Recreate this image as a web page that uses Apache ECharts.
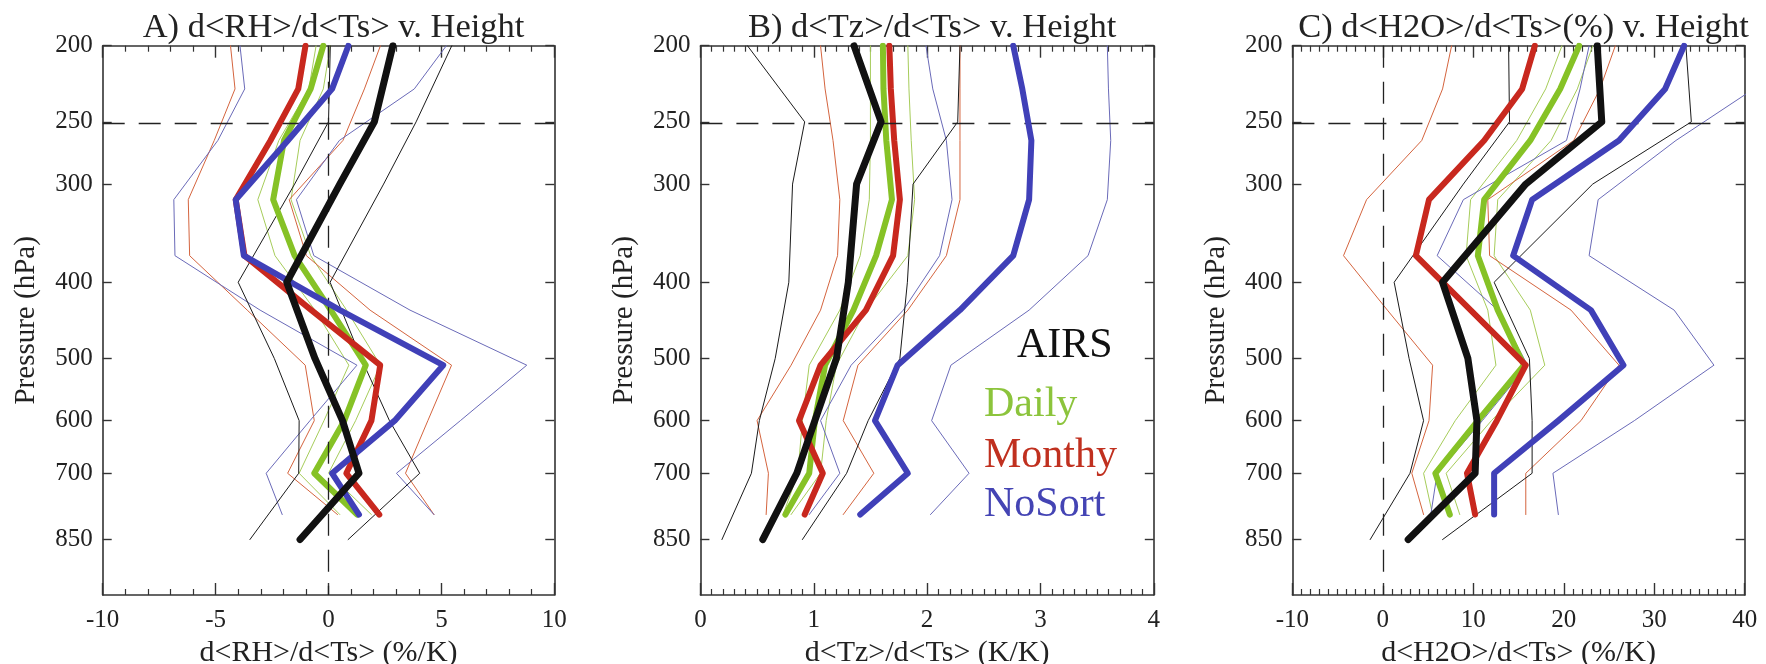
<!DOCTYPE html>
<html>
<head>
<meta charset="utf-8">
<script src="https://cdn.jsdelivr.net/npm/echarts@6/dist/echarts.min.js"></script>
<style>
html,body{margin:0;padding:0;background:#fff;}
#chart{width:1766px;height:664px;}
</style>
</head>
<body>
<div id="chart"></div>
<script>
// ---------- DATA ----------
const P_AIRS  = [200, 250, 300, 400, 500, 600, 700, 850];
const P_MODEL = [200, 227, 264, 314, 370, 434, 510, 600, 700, 790];
const Y_TICKS = [200, 250, 300, 400, 500, 600, 700, 850];
const P_TOP = 200, P_BOTTOM = 1000, P_REF = 250;

// Panel A: d<RH>/d<Ts> (%/K)
const A_AIRS       = [2.85, 2.03, 0.5, -1.85, -0.6, 0.62, 1.35, -1.26];
const A_AIRS_LO    = [0.08, 0.0, -1.5, -4.0, -2.4, -1.3, -1.32, -3.48];
const A_AIRS_HI    = [5.46, 3.88, 2.44, 0.07, 1.45, 2.7, 4.04, 0.87];
const A_DAILY      = [-0.23, -0.79, -1.97, -2.45, -1.5, 0.1, 1.65, 0.7, -0.63, 1.27];
const A_DAILY_LO   = [-0.55, -0.87, -2.2, -3.13, -2.37, -0.6, 0.9, -0.2, -1.3, 0.5];
const A_DAILY_HI   = [0.08, -0.23, -1.26, -1.66, -0.79, 0.8, 2.3, 1.2, 0.0, 1.9];
const A_MONTHY     = [-1.02, -1.34, -2.57, -4.11, -3.72, -0.76, 2.29, 1.9, 0.79, 2.25];
const A_MONTHY_LO  = [-4.34, -4.14, -5.06, -6.21, -6.15, -3.6, -1.03, -0.63, -1.81, 0.4];
const A_MONTHY_HI  = [2.3, 1.59, 0.64, -1.74, -0.98, 1.84, 5.45, 4.4, 3.41, 4.67];
const A_NOSORT     = [0.88, 0.16, -1.8, -4.11, -3.75, 0.51, 5.08, 2.93, 0.16, 1.35];
const A_NOSORT_LO  = [-3.92, -3.71, -4.9, -6.85, -6.8, -3.03, 1.26, -0.82, -2.76, -2.05];
const A_NOSORT_HI  = [5.22, 3.8, 0.48, -1.42, -0.65, 3.61, 8.78, 5.84, 3.01, 4.67];

// Panel B: d<Tz>/d<Ts> (K/K)
const B_AIRS       = [1.355, 1.594, 1.378, 1.305, 1.20, 1.01, 0.85, 0.55];
const B_AIRS_LO    = [0.415, 0.92, 0.813, 0.78, 0.66, 0.52, 0.45, 0.19];
const B_AIRS_HI    = [2.29, 2.27, 1.876, 1.826, 1.76, 1.48, 1.29, 0.90];
const B_DAILY      = [1.61, 1.615, 1.64, 1.69, 1.55, 1.35, 1.10, 1.01, 0.96, 0.75];
const B_DAILY_LO   = [1.50, 1.50, 1.50, 1.49, 1.41, 1.23, 0.96, 0.90, 0.86, 0.73];
const B_DAILY_HI   = [1.83, 1.84, 1.86, 1.89, 1.83, 1.46, 1.20, 1.11, 1.06, 0.80];
const B_MONTHY     = [1.667, 1.68, 1.71, 1.76, 1.70, 1.46, 1.06, 0.87, 1.08, 0.92];
const B_MONTHY_LO  = [1.06, 1.10, 1.17, 1.23, 1.21, 1.06, 0.80, 0.50, 0.60, 0.58];
const B_MONTHY_HI  = [2.29, 2.29, 2.29, 2.29, 2.17, 1.83, 1.39, 1.26, 1.53, 1.26];
const B_NOSORT     = [2.76, 2.84, 2.92, 2.90, 2.76, 2.29, 1.74, 1.54, 1.83, 1.41];
const B_NOSORT_LO  = [1.99, 2.05, 2.17, 2.22, 2.11, 1.79, 1.33, 1.06, 1.23, 0.96];
const B_NOSORT_HI  = [3.59, 3.60, 3.62, 3.59, 3.42, 2.90, 2.21, 2.04, 2.37, 2.03];

// Panel C: d<H2O>/d<Ts> (%/K)
const C_AIRS       = [23.7, 24.2, 15.8, 6.6, 9.4, 10.4, 10.2, 2.8];
const C_AIRS_LO    = [13.9, 14.0, 8.9, 1.25, 2.9, 4.5, 3.0, -1.4];
const C_AIRS_HI    = [33.5, 34.1, 23.2, 12.3, 16.2, 16.5, 16.5, 6.6];
const C_DAILY      = [21.7, 19.6, 16.3, 11.2, 10.5, 12.7, 15.6, 10.5, 5.8, 7.4];
const C_DAILY_LO   = [19.8, 18.0, 14.8, 9.7, 9.2, 11.6, 12.5, 8.0, 4.5, 5.5];
const C_DAILY_HI   = [23.2, 21.5, 18.6, 12.7, 12.3, 16.3, 17.9, 12.0, 7.0, 8.5];
const C_MONTHY     = [16.8, 15.4, 11.2, 5.1, 3.65, 9.7, 15.8, 12.6, 9.3, 10.2];
const C_MONTHY_LO  = [7.6, 6.6, 4.3, -1.8, -4.35, 0.5, 5.5, 5.1, 3.2, 4.5];
const C_MONTHY_HI  = [25.7, 24.0, 21.1, 11.6, 11.8, 20.8, 26.1, 21.9, 15.8, 15.8];
const C_NOSORT     = [33.3, 31.2, 26.1, 16.5, 14.4, 23.0, 26.6, 19.4, 12.3, 12.3];
const C_NOSORT_LO  = [22.8, 21.8, 20.3, 8.9, 6.0, 12.7, 16.0, 11.0, 6.0, 5.3];
const C_NOSORT_HI  = [46, 41, 32.4, 23.8, 22.8, 32.2, 36.6, 27.8, 18.8, 19.4];

const LEGEND_NAMES = ['AIRS', 'Daily', 'Monthy', 'NoSort'];

// ---------- STYLE ----------
const FONT = 'Liberation Serif';
const COL = {
  AIRS:  {thick:'#111111', thin:'#1a1a1a', text:'#111111'},
  DAILY: {thick:'#86c226', thin:'#a6cc5a', text:'#8cc43c'},
  MONTHY:{thick:'#c8281e', thin:'#d4643e', text:'#c0301f'},
  NOSORT:{thick:'#4040b8', thin:'#6a6ab8', text:'#4444b4'}
};
const TOP = 45.7, HEIGHT = 549.3;
const AXIS_COLOR = '#333';

const PANELS = [
  {title:'A) d<RH>/d<Ts> v. Height', xname:'d<RH>/d<Ts> (%/K)', min:-10, max:10, interval:5, minor:5,
   left:102.7, width:451.6, zeroLine:true,
   d:{airs:[A_AIRS,A_AIRS_LO,A_AIRS_HI], daily:[A_DAILY,A_DAILY_LO,A_DAILY_HI], monthy:[A_MONTHY,A_MONTHY_LO,A_MONTHY_HI], nosort:[A_NOSORT,A_NOSORT_LO,A_NOSORT_HI]}},
  {title:'B) d<Tz>/d<Ts> v. Height', xname:'d<Tz>/d<Ts> (K/K)', min:0, max:4, interval:1, minor:10,
   left:700.4, width:453.4, zeroLine:false,
   d:{airs:[B_AIRS,B_AIRS_LO,B_AIRS_HI], daily:[B_DAILY,B_DAILY_LO,B_DAILY_HI], monthy:[B_MONTHY,B_MONTHY_LO,B_MONTHY_HI], nosort:[B_NOSORT,B_NOSORT_LO,B_NOSORT_HI]}},
  {title:'C) d<H2O>/d<Ts>(%) v. Height', xname:'d<H2O>/d<Ts> (%/K)', min:-10, max:40, interval:10, minor:10,
   left:1292.4, width:452.3, zeroLine:true,
   d:{airs:[C_AIRS,C_AIRS_LO,C_AIRS_HI], daily:[C_DAILY,C_DAILY_LO,C_DAILY_HI], monthy:[C_MONTHY,C_MONTHY_LO,C_MONTHY_HI], nosort:[C_NOSORT,C_NOSORT_LO,C_NOSORT_HI]}}
];

const lg = v => Math.log10(v);
const toData = (vals, levels) => vals.map((v, i) => [v, lg(levels[i])]);

const grids = [], xAxes = [], yAxes = [], series = [], titles = [];

PANELS.forEach((P, i) => {
  grids.push({left:P.left, top:TOP, width:P.width, height:HEIGHT, containLabel:false, outerBoundsMode:'none'});
  titles.push({text:P.title, left:P.left + P.width/2, top:5, textAlign:'center',
    textStyle:{fontFamily:FONT, fontSize:34.5, fontWeight:'normal', color:'#222'}});
  const xBase = {
    gridIndex:i, type:'value', min:P.min, max:P.max, interval:P.interval,
    axisLine:{show:true, onZero:false, lineStyle:{color:AXIS_COLOR, width:1.6}},
    axisTick:{show:true, inside:true, length:12, lineStyle:{color:AXIS_COLOR, width:1.4}},
    minorTick:{show:true, splitNumber:P.minor, length:6, lineStyle:{color:AXIS_COLOR, width:1.2}},
    splitLine:{show:false}, minorSplitLine:{show:false}
  };
  xAxes.push(Object.assign({}, xBase, {position:'bottom',
    axisLabel:{fontFamily:FONT, fontSize:25, color:'#222', margin:13},
    name:P.xname, nameLocation:'middle', nameGap:38,
    nameTextStyle:{fontFamily:FONT, fontSize:30, color:'#222'}}));
  xAxes.push(Object.assign({}, xBase, {position:'top', axisLabel:{show:false}}));
  const tickVals = Y_TICKS.map(lg);
  const yBase = {
    gridIndex:i, type:'value', inverse:true, min:lg(P_TOP), max:lg(P_BOTTOM),
    axisLine:{show:true, onZero:false, lineStyle:{color:AXIS_COLOR, width:1.6}},
    axisTick:{show:true, inside:true, length:9, customValues:tickVals, lineStyle:{color:AXIS_COLOR, width:1.4}},
    splitLine:{show:false}
  };
  yAxes.push(Object.assign({}, yBase, {position:'left',
    axisLabel:{customValues:tickVals, formatter:v => String(Math.round(Math.pow(10, v))),
      fontFamily:FONT, fontSize:25, color:'#222', margin:10},
    name:'Pressure (hPa)', nameLocation:'middle', nameGap:62,
    nameTextStyle:{fontFamily:FONT, fontSize:29, color:'#222'}}));
  yAxes.push(Object.assign({}, yBase, {position:'right', axisLabel:{show:false}}));

  const mk = (vals, levels, color, width, z) => ({
    type:'line', xAxisIndex:2*i, yAxisIndex:2*i, data:toData(vals, levels),
    symbol:'none', showSymbol:false, silent:true, clip:true, z:z,
    lineStyle:{color:color, width:width, join:'round', cap:'round'}
  });

  // reference dashed lines
  const mlData = [{yAxis:lg(P_REF)}];
  if (P.zeroLine) mlData.push({xAxis:0});
  series.push({type:'line', xAxisIndex:2*i, yAxisIndex:2*i, data:[], silent:true, z:1,
    markLine:{silent:true, symbol:'none', label:{show:false}, animation:false,
      lineStyle:{color:'#222', width:1.3, type:[22,14]}, data:mlData}});

  const groups = [
    ['daily', COL.DAILY, P_MODEL, 6],
    ['monthy', COL.MONTHY, P_MODEL, 6],
    ['nosort', COL.NOSORT, P_MODEL, 6],
    ['airs', COL.AIRS, P_AIRS, 7]
  ];
  groups.forEach(([k, c, lev]) => {
    series.push(mk(P.d[k][1], lev, c.thin, 1, 2));
    series.push(mk(P.d[k][2], lev, c.thin, 1, 2));
  });
  groups.forEach(([k, c, lev, w], j) => {
    series.push(mk(P.d[k][0], lev, c.thick, w, 3 + j));
  });
});

const legendCols = [COL.AIRS.text, COL.DAILY.text, COL.MONTHY.text, COL.NOSORT.text];
const legendPos = [[1017, 346], [984, 405], [984, 456], [984, 505]];
const graphics = LEGEND_NAMES.map((t, k) => ({
  type:'text', x:legendPos[k][0], y:legendPos[k][1], z:10,
  style:{text:t, font:'42px ' + FONT, fill:legendCols[k], align:'left', verticalAlign:'middle'}
}));

const chart = echarts.init(document.getElementById('chart'), null, {renderer:'canvas'});
chart.setOption({
  animation:false,
  backgroundColor:'#ffffff',
  title:titles,
  grid:grids,
  xAxis:xAxes,
  yAxis:yAxes,
  series:series,
  graphic:graphics
});
</script>
</body>
</html>
